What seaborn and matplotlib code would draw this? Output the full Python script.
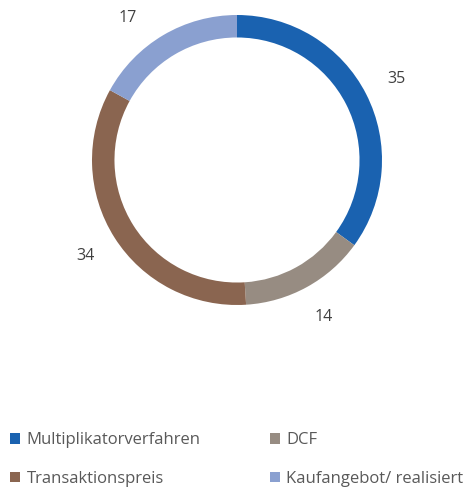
import matplotlib
matplotlib.use("Agg")
import matplotlib.pyplot as plt
import seaborn as sns
import numpy as np
from matplotlib.patches import Patch

sns.set_theme(style="white")
plt.rcParams['font.family'] = ['Open Sans', 'DejaVu Sans']

# Daten
categories = ['Multiplikatorverfahren', 'DCF', 'Transaktionspreis', 'Kaufangebot/ realisiert']
values = [35, 14, 34, 17]
colors = ['#1a62b0', '#978c82', '#8a6550', '#8aa0d0']

fig = plt.figure(figsize=(4.73, 4.94), dpi=100, facecolor='white')

# Donut-Achse: Mittelpunkt bei (237, 160) px, Radius 145 px
side = 360
ax = fig.add_axes([(237 - side / 2) / 473, (494 - 160 - side / 2) / 494, side / 473, side / 494])
wedges, _ = ax.pie(values, colors=colors, startangle=90, counterclock=False,
                   radius=1.0, wedgeprops=dict(width=0.155, linewidth=0))
lim = (side / 2) / 145
ax.set_xlim(-lim, lim)
ax.set_ylim(-lim, lim)
ax.set_aspect('equal')
ax.axis('off')

# Datenbeschriftungen ausserhalb des Rings (oben im Diagrammbereich gehalten)
total = sum(values)
start = 90.0
r = 1.235
ymax = 0.98
for v in values:
    mid = start - v / total * 360 / 2
    start -= v / total * 360
    x, y = r * np.cos(np.radians(mid)), r * np.sin(np.radians(mid))
    if y > ymax:
        y = ymax
        x = np.sign(x) * np.sqrt(r ** 2 - y ** 2)
    ax.text(x, y, str(v), ha='center', va='center', fontsize=11.5, color='#404040')

# Legende zeilenweise wie im Original
order = [0, 2, 1, 3]
handles = [Patch(facecolor=colors[i], edgecolor='none') for i in order]
labels = [categories[i] for i in order]
fig.legend(handles, labels, ncol=2, loc='upper left', bbox_to_anchor=(0.022, 0.125),
           frameon=False, fontsize=12, labelcolor='#595959',
           handlelength=0.58, handleheight=0.58, handletextpad=0.38,
           columnspacing=4.2, labelspacing=1.34, borderpad=0, borderaxespad=0)

fig.savefig('out.png', dpi=100, facecolor='white')
